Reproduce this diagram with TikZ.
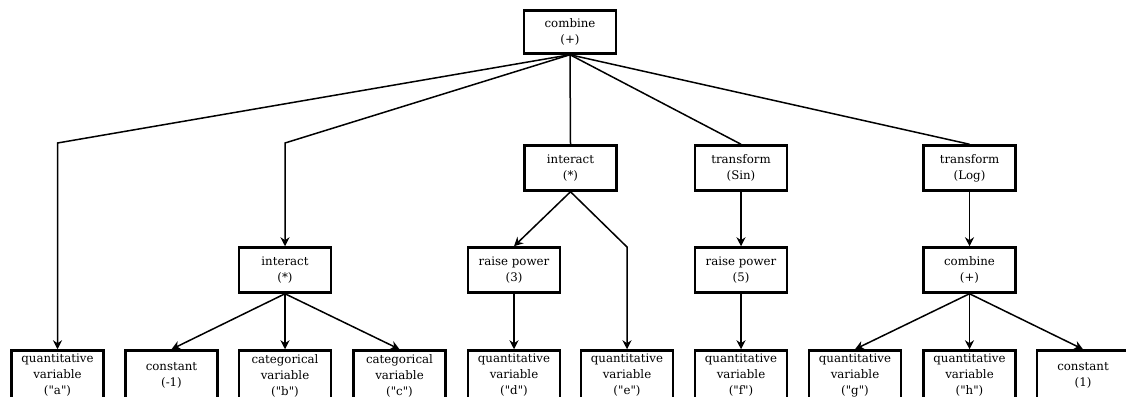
\documentclass[tikz,border=0pt]{standalone}
\usepackage{fontspec}
\newfontfamily\nodefont{DejaVu Serif}
\usetikzlibrary{arrows.meta}
\tikzset{
	blk/.style={draw, fill=white, line width=2.5pt, minimum width=92pt, minimum height=45pt, align=center, inner sep=1pt, font=\nodefont\fontsize{11.8}{16}\selectfont},
	leaf/.style={blk, minimum height=50pt},
	arr/.style={-{Stealth[length=9pt,width=9pt]}, line width=1.5pt},
	ln/.style={line width=1.5pt}
}
\begin{document}
\begin{tikzpicture}[x=1pt, y=-1pt]
	\useasboundingbox (0,0) rectangle (1126,396);
	% top
	\node[blk, minimum height=43pt] (root) at (570,32) {combine\\(+)};
	% second row
	\node[blk] (int2) at (570.5,168) {interact\\(*)};
	\node[blk] (sin) at (741,168) {transform\\(Sin)};
	\node[blk] (log) at (969.5,168) {transform\\(Log)};
	% third row
	\node[blk] (int3) at (285,270) {interact\\(*)};
	\node[blk] (pow3) at (514,270) {raise power\\(3)};
	\node[blk] (pow5) at (741,270) {raise power\\(5)};
	\node[blk] (comb) at (969.5,270) {combine\\(+)};
	% leaves
	\node[leaf] (qa) at (57.5,375.5) {quantitative\\variable\\("a")};
	\node[leaf] (cm) at (171.5,375.5) {constant\\(-1)};
	\node[leaf] (cb) at (285,375.5) {categorical\\variable\\("b")};
	\node[leaf] (cc) at (399.5,375.5) {categorical\\variable\\("c")};
	\node[leaf] (qd) at (514,375.5) {quantitative\\variable\\("d")};
	\node[leaf] (qe) at (627,375.5) {quantitative\\variable\\("e")};
	\node[leaf] (qf) at (741,375.5) {quantitative\\variable\\("f")};
	\node[leaf] (qg) at (855,375.5) {quantitative\\variable\\("g")};
	\node[leaf] (qh) at (969.5,375.5) {quantitative\\variable\\("h")};
	\node[leaf] (c1) at (1083,375.5) {constant\\(1)};
	% bends
	\coordinate (ka) at (57.5,143);
	\coordinate (ki) at (285,143);
	\coordinate (ke) at (627,247);
	% edges
	\draw[ln] (root.south) -- (int2.north);
	\draw[ln] (root.south) -- (sin.north);
	\draw[ln] (root.south) -- (log.north);
	\draw[arr] (root.south) -- (ka) -- (qa.north);
	\draw[arr] (root.south) -- (ki) -- (int3.north);
	\foreach \t in {cm,cb,cc} \draw[arr] (int3.south) -- (\t.north);
	\draw[arr] (int2.south) -- (pow3.north);
	\draw[arr] (int2.south) -- (ke) -- (qe.north);
	\draw[arr] (pow3.south) -- (qd.north);
	\draw[arr] (sin.south) -- (pow5.north);
	\draw[arr] (pow5.south) -- (qf.north);
	\draw[arr] (log.south) -- (comb.north);
	\foreach \t in {qg,qh,c1} \draw[arr] (comb.south) -- (\t.north);
\end{tikzpicture}
\end{document}
